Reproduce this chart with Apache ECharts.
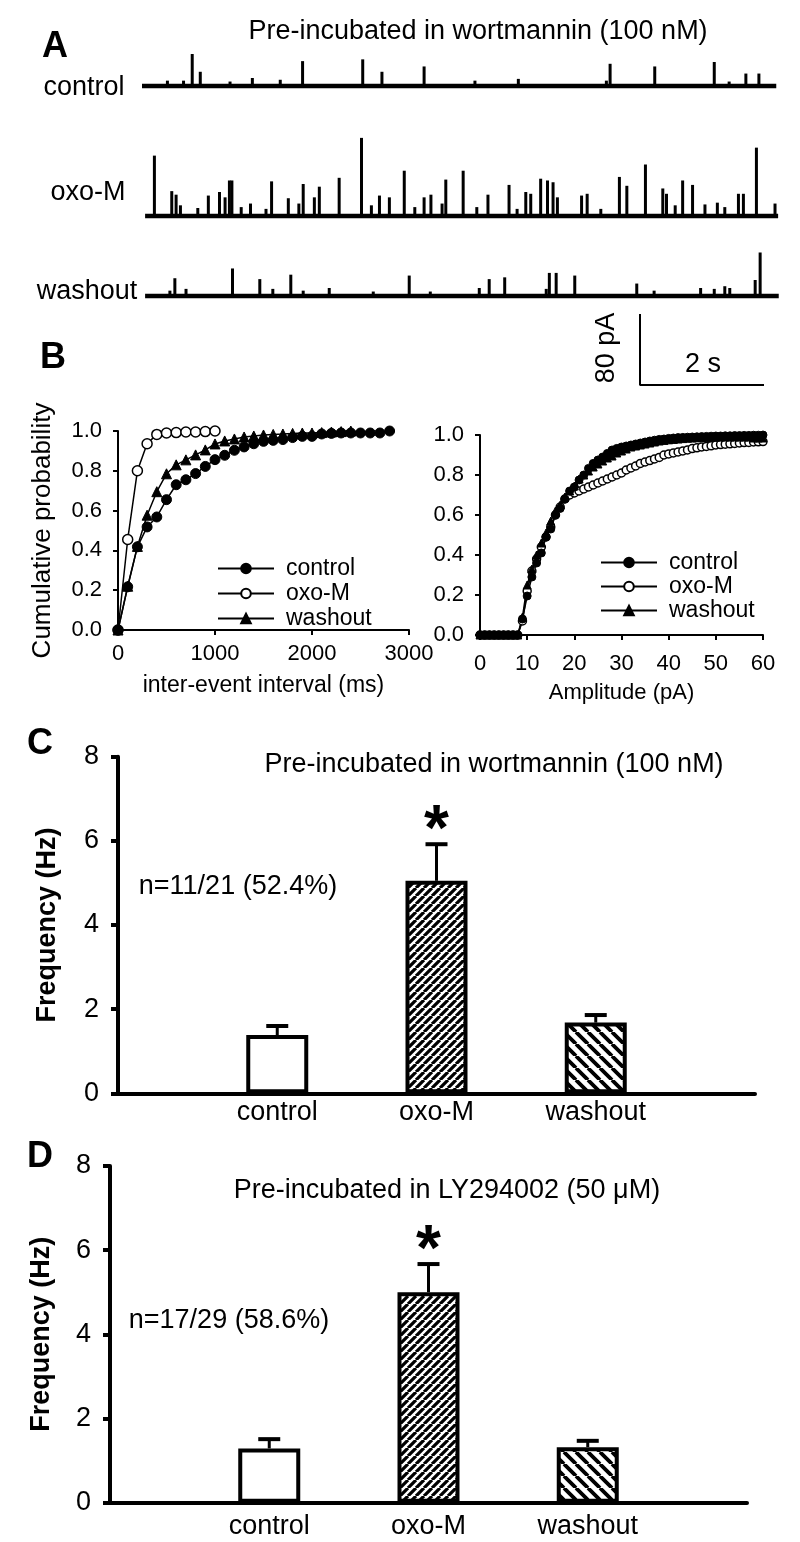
<!DOCTYPE html>
<html><head><meta charset="utf-8">
<script src="https://cdn.jsdelivr.net/npm/echarts@6/dist/echarts.min.js"></script>
<style>html,body{margin:0;padding:0;background:#fff}#c{width:800px;height:1542px}</style>
</head><body><div id="c"></div>
<script>
const FONT = "'Liberation Sans', Arial, Helvetica, sans-serif";

// ---------- Panel A: sample traces (events: [time s, amplitude pA]) ----------
const traceNames = ['control', 'oxo-M', 'washout'];
const traceSpan = [[0, 10.23], [0.05, 10.26], [0.05, 10.27]];
const eventsControl = [[0.41,6],[0.67,6],[0.81,36],[0.94,16],[1.42,5],[1.78,9],[2.23,7],[2.59,28],[3.56,30],[3.87,16],[4.55,22],[5.37,6],[6.07,8],[7.49,6],[7.55,25],[8.27,22],[9.23,27],[9.47,5],[9.74,14],[9.95,14]];
const eventsOxoM = [[0.20,68],[0.48,28],[0.55,24],[0.62,12],[0.90,9],[1.07,23],[1.25,27],[1.34,21],[1.41,40],[1.45,40],[1.60,10],[1.75,14],[2.00,8],[2.09,39],[2.36,20],[2.53,14],[2.60,36],[2.78,21],[2.86,33],[3.18,43],[3.54,88],[3.70,12],[3.83,23],[3.99,21],[4.23,51],[4.40,10],[4.55,21],[4.66,24],[4.84,14],[4.90,41],[5.18,51],[5.40,10],[5.58,24],[5.92,35],[6.05,8],[6.19,27],[6.27,25],[6.43,42],[6.54,40],[6.63,38],[6.70,21],[7.09,23],[7.18,25],[7.40,8],[7.70,44],[7.82,34],[8.12,58],[8.40,31],[8.46,25],[8.60,12],[8.72,40],[8.88,35],[9.08,13],[9.28,15],[9.40,10],[9.62,25],[9.70,25],[9.91,77],[10.21,14]];
const eventsWashout = [[0.45,6],[0.53,20],[0.71,8],[1.46,31],[1.90,19],[2.11,8],[2.40,24],[2.60,6],[3.02,9],[3.73,5],[4.31,23],[4.65,5],[5.44,9],[5.60,19],[5.85,21],[6.52,8],[6.57,26],[6.68,26],[6.98,23],[7.98,14],[8.26,6],[9.01,9],[9.23,8],[9.40,11],[9.48,9],[9.89,18],[9.97,49]];
const scaleBarPA = 80;
const scaleBarS = 2;

// ---------- Panel B: cumulative distributions ----------
const ieiX = [0,100,200,300,400,500,600,700,800,900,1000,1100,1200,1300,1400,1500,1600,1700,1800,1900,2000,2100,2200,2300,2400,2500,2600,2700,2800];
const ieiControl = [0,0.217,0.418,0.518,0.568,0.655,0.73,0.755,0.786,0.822,0.856,0.878,0.903,0.92,0.936,0.948,0.953,0.957,0.967,0.973,0.973,0.985,0.988,0.99,0.99,0.99,0.99,0.99,1.0];
const ieiOxoM = [0,0.455,0.80,0.936,0.983,0.99,0.992,0.995,0.995,0.997,1.0];
const ieiWashout = [0,0.22,0.42,0.577,0.695,0.785,0.83,0.855,0.88,0.905,0.935,0.95,0.96,0.97,0.975,0.98,0.983,0.985,0.988,0.99,0.99,0.992,0.995,0.997,1.0];

const ampX = [0,1,2,3,4,5,6,7,8,9,10,11,12,13,14,15,16,17,18,19,20,21,22,23,24,25,26,27,28,29,30,31,32,33,34,35,36,37,38,39,40,41,42,43,44,45,46,47,48,49,50,51,52,53,54,55,56,57,58,59,60];
const ampControl = [0,0,0,0,0,0,0,0,0,0.08,0.195,0.29,0.36,0.41,0.49,0.53,0.60,0.633,0.68,0.72,0.74,0.775,0.80,0.833,0.858,0.875,0.89,0.908,0.925,0.933,0.94,0.945,0.95,0.955,0.96,0.965,0.97,0.974,0.978,0.98,0.983,0.985,0.987,0.988,0.989,0.99,0.991,0.992,0.993,0.994,0.995,0.995,0.996,0.996,0.997,0.997,0.998,0.998,0.999,0.999,1.0];
const ampOxoM = [0,0,0,0,0,0,0,0,0,0.07,0.22,0.32,0.38,0.44,0.49,0.54,0.60,0.64,0.68,0.70,0.71,0.72,0.73,0.74,0.75,0.76,0.77,0.78,0.79,0.80,0.81,0.825,0.835,0.845,0.858,0.865,0.872,0.88,0.888,0.90,0.905,0.91,0.915,0.92,0.925,0.932,0.936,0.94,0.943,0.946,0.95,0.952,0.954,0.956,0.958,0.96,0.962,0.963,0.965,0.966,0.967];
const ampWashout = [0,0,0,0,0,0,0,0,0,0.09,0.25,0.33,0.40,0.46,0.51,0.57,0.62,0.65,0.69,0.72,0.745,0.78,0.80,0.82,0.84,0.855,0.87,0.885,0.895,0.91,0.92,0.93,0.94,0.945,0.95,0.955,0.96,0.965,0.97,0.973,0.976,0.978,0.98,0.982,0.984,0.985,0.986,0.987,0.988,0.989,0.99,0.99,0.99,0.99,0.99,0.99,0.99,0.99,0.985,0.985,0.985];

// ---------- Panels C & D: frequency bars ----------
const groups = ['control', 'oxo-M', 'washout'];
const groupPos = [1, 2, 3];
const freqC = [1.385, 5.05, 1.68];
const semC = [0.215, 0.87, 0.18];
const sigC = ['', '*', ''];
const freqD = [1.29, 5.0, 1.32];
const semD = [0.22, 0.67, 0.15];
const sigD = ['', '*', ''];

const titleA = 'Pre-incubated in wortmannin (100 nM)';
const titleC = 'Pre-incubated in wortmannin (100 nM)';
const titleD = 'Pre-incubated in LY294002 (50 \u03bcM)';
const nTextC = 'n=11/21 (52.4%)';
const nTextD = 'n=17/29 (58.6%)';

// ---------- helpers ----------
function hatch(size, lw, dir) {
  const c = document.createElement('canvas');
  c.width = size; c.height = size;
  const g = c.getContext('2d');
  g.fillStyle = '#fff'; g.fillRect(0, 0, size, size);
  g.strokeStyle = '#000'; g.lineWidth = lw;
  g.beginPath();
  for (let k = -1; k <= 1; k++) {
    const x0 = k * size;
    if (dir > 0) { g.moveTo(x0, size); g.lineTo(x0 + size, 0); }
    else { g.moveTo(x0, 0); g.lineTo(x0 + size, size); }
  }
  g.stroke();
  return c;
}
const fills = ['#fff', {image: hatch(8, 3.2, 1), repeat: 'repeat'}, {image: hatch(12, 3.8, -1), repeat: 'repeat'}];

const T = (text, x, y, size, o = {}) => ({
  type: 'text', x, y, rotation: o.rot || 0,
  style: {text, fill: '#000', font: (o.bold ? 'bold ' : '') + size + 'px ' + FONT,
    textAlign: o.align || 'center', textVerticalAlign: 'middle'}
});

function errRender(sig) {
  return function (params, api) {
    const x = api.value(0), v = api.value(1), e = api.value(2);
    const p0 = api.coord([x, v]);
    const p1 = api.coord([x, v + e]);
    const ch = [
      {type: 'line', shape: {x1: p0[0], y1: p0[1], x2: p1[0], y2: p1[1]}, style: {stroke: '#000', lineWidth: 3}},
      {type: 'line', shape: {x1: p1[0] - 11, y1: p1[1], x2: p1[0] + 11, y2: p1[1]}, style: {stroke: '#000', lineWidth: 4}}
    ];
    const s = sig[params.dataIndex];
    if (s) ch.push({type: 'text', x: p1[0], y: p1[1] - 12,
      style: {text: s, fill: '#000', font: 'bold 64px ' + FONT, textAlign: 'center', textVerticalAlign: 'middle'}});
    return {type: 'group', children: ch};
  };
}

const lbl = (size, extra = {}) => Object.assign({color: '#000', fontSize: size, fontFamily: FONT}, extra);

// ---------- grids ----------
const grid = [
  {left: 142, top: 6.1, width: 644.8, height: 88.75},
  {left: 142, top: 136.1, width: 644.8, height: 88.75},
  {left: 142, top: 216.1, width: 644.8, height: 88.75},
  {left: 640, top: 305.1, width: 136.4, height: 88.75},
  {left: 118, top: 431, width: 291, height: 199},
  {left: 480, top: 435, width: 283, height: 200},
  {left: 118, top: 756.7, width: 637, height: 336.6},
  {left: 110, top: 1166, width: 637, height: 336.7}
].map(g => Object.assign({outerBoundsMode: 'none', containLabel: false}, g));

const xAxis = [], yAxis = [];
for (let i = 0; i < 3; i++) {
  xAxis.push({gridIndex: i, type: 'value', min: 0, max: 10.4, show: false});
  yAxis.push({gridIndex: i, type: 'value', min: -10, max: 90, show: false});
}
xAxis.push({gridIndex: 3, type: 'value', min: 0, max: 2.2, show: false});
yAxis.push({gridIndex: 3, type: 'value', min: -10, max: 90, show: false});

const bAxisLine = {show: true, lineStyle: {color: '#000', width: 2}};
const bTick = {show: true, inside: false, length: 5, lineStyle: {color: '#000', width: 2}};
xAxis.push({gridIndex: 4, type: 'value', min: 0, max: 3000, interval: 1000,
  axisLine: bAxisLine, axisTick: bTick, splitLine: {show: false},
  axisLabel: lbl(22, {margin: 13, formatter: v => String(v)}),
  name: 'inter-event interval (ms)', nameLocation: 'middle', nameGap: 44, nameTextStyle: lbl(23)});
yAxis.push({gridIndex: 4, type: 'value', min: 0, max: 1, interval: 0.2,
  axisLine: bAxisLine, axisTick: bTick, splitLine: {show: false},
  axisLabel: lbl(22, {margin: 16, formatter: v => v.toFixed(1)}),
  name: 'Cumulative probability', nameLocation: 'middle', nameRotate: 90, nameGap: 62, nameTextStyle: lbl(26)});
xAxis.push({gridIndex: 5, type: 'value', min: 0, max: 60, interval: 10,
  axisLine: bAxisLine, axisTick: bTick, splitLine: {show: false},
  axisLabel: lbl(22, {margin: 18, formatter: v => String(v)}),
  name: 'Amplitude (pA)', nameLocation: 'middle', nameGap: 47, nameTextStyle: lbl(22)});
yAxis.push({gridIndex: 5, type: 'value', min: 0, max: 1, interval: 0.2,
  axisLine: bAxisLine, axisTick: bTick, splitLine: {show: false},
  axisLabel: lbl(22, {margin: 16, formatter: v => v.toFixed(1)})});

const cAxisLine = {show: true, lineStyle: {color: '#000', width: 4}};
[[6, 57, 6], [7, 55, 10]].forEach(([gi, nameGap, catMargin]) => {
  xAxis.push({gridIndex: gi, type: 'value', min: 0, max: 4, interval: 1,
    axisLine: cAxisLine, axisTick: {show: false}, splitLine: {show: false},
    axisLabel: lbl(27, {margin: catMargin, formatter: v => groups[groupPos.indexOf(v)] || ''})});
  yAxis.push({gridIndex: gi, type: 'value', min: 0, max: 8, interval: 2,
    axisLine: cAxisLine, axisTick: {show: true, length: 7, lineStyle: {color: '#000', width: 4}},
    splitLine: {show: false}, axisLabel: lbl(27, {margin: 19}),
    name: 'Frequency (Hz)', nameLocation: 'middle', nameRotate: 90, nameGap,
    nameTextStyle: lbl(27, {fontWeight: 'bold'})});
});

// ---------- series ----------
const series = [];
const evs = [eventsControl, eventsOxoM, eventsWashout];
for (let i = 0; i < 3; i++) {
  series.push({type: 'line', xAxisIndex: i, yAxisIndex: i, data: [[traceSpan[i][0], 0], [traceSpan[i][1], 0]],
    symbol: 'none', lineStyle: {color: '#000', width: 4.5}, silent: true, clip: false});
  series.push({type: 'bar', xAxisIndex: i, yAxisIndex: i, data: evs[i], barWidth: 3,
    itemStyle: {color: '#000'}, silent: true, clip: false});
}
series.push({type: 'line', xAxisIndex: 3, yAxisIndex: 3, data: [[0, scaleBarPA], [0, 0], [scaleBarS, 0]],
  symbol: 'none', lineStyle: {color: '#000', width: 2}, silent: true});

const styles = {
  'control': {symbol: 'circle', itemStyle: {color: '#000', borderColor: '#000', borderWidth: 1}},
  'oxo-M': {symbol: 'circle', itemStyle: {color: '#fff', borderColor: '#000', borderWidth: 1.5}},
  'washout': {symbol: 'triangle', itemStyle: {color: '#000', borderColor: '#000', borderWidth: 1}}
};
const mk = (name, gi, xs, ys, size) => Object.assign({
  type: 'line', name, xAxisIndex: gi, yAxisIndex: gi,
  data: ys.map((v, i) => [xs[i], v]), symbolSize: size,
  lineStyle: {color: '#000', width: 1.5}
}, styles[name]);
series.push(mk('oxo-M', 4, ieiX, ieiOxoM, 10));
series.push(mk('control', 4, ieiX, ieiControl, 10));
series.push(mk('washout', 4, ieiX, ieiWashout, 10));
series.push(mk('oxo-M', 5, ampX, ampOxoM, 8));
series.push(mk('washout', 5, ampX, ampWashout, 8));
series.push(mk('control', 5, ampX, ampControl, 8));

[[6, freqC, semC, sigC], [7, freqD, semD, sigD]].forEach(([gi, fr, se, sg]) => {
  series.push({type: 'bar', xAxisIndex: gi, yAxisIndex: gi, barWidth: 62,
    data: fr.map((v, i) => ({value: [groupPos[i], v], itemStyle: {color: fills[i]}})),
    itemStyle: {borderColor: '#000', borderWidth: 4}, silent: true});
  series.push({type: 'custom', xAxisIndex: gi, yAxisIndex: gi, renderItem: errRender(sg),
    data: fr.map((v, i) => [groupPos[i], v, se[i]]), silent: true, z: 3});
});

const legendBase = {data: ['control', 'oxo-M', 'washout'], orient: 'vertical', itemWidth: 56, itemHeight: 12,
  selectedMode: false, textStyle: lbl(23, {lineHeight: 22, padding: [0, 0, 0, 7]})};

const graphic = [
  T('A', 55, 47, 36, {bold: true}),
  T(titleA, 478, 32, 27),
  T(traceNames[0], 84, 88, 27),
  T(traceNames[1], 88, 193, 27),
  T(traceNames[2], 87, 292, 27),
  T(scaleBarPA + ' pA', 607, 348, 27, {rot: Math.PI / 2}),
  T(scaleBarS + ' s', 703, 365, 27),
  T('B', 53, 358, 36, {bold: true}),
  T('C', 40, 744, 36, {bold: true}),
  T(titleC, 494, 765, 27),
  T(nTextC, 238, 887, 27),
  T('D', 40, 1157, 36, {bold: true}),
  T(titleD, 447, 1191, 27),
  T(nTextD, 229, 1321, 27)
];

const chart = echarts.init(document.getElementById('c'), null, {renderer: 'canvas', width: 800, height: 1542});
chart.setOption({
  backgroundColor: '#fff',
  animation: false,
  grid, xAxis, yAxis, series,
  legend: [
    Object.assign({left: 212, top: 552, itemGap: 2}, legendBase),
    Object.assign({left: 595, top: 546, itemGap: 1}, legendBase)
  ],
  graphic
});
</script></body></html>
